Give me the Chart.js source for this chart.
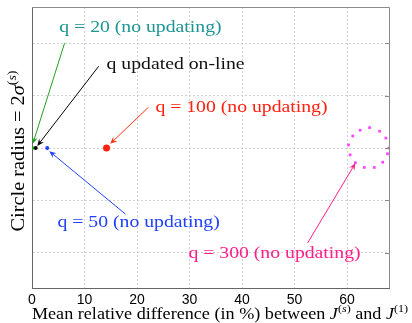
<!DOCTYPE html>
<html lang="en">
<head>
  <meta charset="UTF-8">
  <title>Circle radius vs mean relative difference</title>
  <style>
    html, body { margin: 0; padding: 0; background: #fff; }
    #wrap { width: 412px; height: 323px; }
  </style>
</head>
<body>
  <div id="wrap">
    <canvas id="myChart"></canvas>
  </div>

  <script src="https://cdn.jsdelivr.net/npm/chart.js"></script>

  <script>
    // values
    const xTickValues = [0, 10, 20, 30, 40, 50, 60];
    const yGridValues = [1, 2, 3, 4, 5];

    const runNames = ['q = 20', 'q updated on-line', 'q = 50', 'q = 100'];
    const meanDiff = [0.05, 0.7, 2.9, 14.2];
    const radius = [3, 3, 3, 3];

    // dots of the dotted circle for q = 300
    const circle300X = [60.6, 60.3, 61.1, 62.5, 64.3, 66.2, 67.4, 68.0, 67.7, 66.8, 65.2, 63.3, 61.6];
    const circle300Y = [2.87, 3.06, 3.23, 3.34, 3.39, 3.32, 3.19, 3.0, 2.89, 2.73, 2.63, 2.63, 2.72];

    const runColors = ['#22a022', '#000000', '#2040ff', '#ff2010'];
    const runSizes = [2, 2, 2, 3.5];

    // text labels with arrows (data units)
    const notes = [
      { text: 'q = 20 (no updating)', color: 'rgb(30,148,148)', arrow: '#22a022', at: [5.2, 5.30], from: [6.2, 5.0], to: [0.15, 3.08] },
      { text: 'q updated on-line', color: '#111', arrow: '#000', at: [14.2, 4.60], from: [12.7, 4.56], to: [1.0, 3.04] },
      { text: 'q = 100 (no updating)', color: '#ff2010', arrow: '#ff3010', at: [23.5, 3.78], from: [22.2, 3.78], to: [14.9, 3.08] },
      { text: 'q = 50 (no updating)', color: '#2040ff', arrow: '#2040ff', at: [4.85, 1.57], from: [17.8, 1.74], to: [3.3, 2.94] },
      { text: 'q = 300 (no updating)', color: 'rgb(255,30,140)', arrow: 'rgb(255,30,140)', at: [29.8, 0.98], from: [52.5, 1.19], to: [61.6, 2.71] }
    ];

    const serif = '"Liberation Serif", "Times New Roman", serif';

    const datasets = runNames.map((name, i) => ({
      label: name,
      data: [{ x: meanDiff[i], y: radius[i] }],
      backgroundColor: runColors[i],
      borderColor: runColors[i],
      pointRadius: runSizes[i],
      borderWidth: 0
    }));
    datasets.push({
      label: 'q = 300',
      data: circle300X.map((x, i) => ({ x: x, y: circle300Y[i] })),
      backgroundColor: '#ff40ff',
      borderColor: '#ff40ff',
      pointStyle: 'rect',
      pointRadius: 1.9,
      borderWidth: 0
    });

    function arrow(ctx, x1, y1, x2, y2, color) {
      const a = Math.atan2(y2 - y1, x2 - x1);
      const L = 7, W = 3;
      ctx.save();
      ctx.strokeStyle = color;
      ctx.fillStyle = color;
      ctx.lineWidth = 1;
      ctx.beginPath();
      ctx.moveTo(x1, y1);
      ctx.lineTo(x2 - Math.cos(a) * 4, y2 - Math.sin(a) * 4);
      ctx.stroke();
      ctx.beginPath();
      ctx.moveTo(x2, y2);
      ctx.lineTo(x2 - L * Math.cos(a) + W * Math.sin(a), y2 - L * Math.sin(a) - W * Math.cos(a));
      ctx.lineTo(x2 - 4.5 * Math.cos(a), y2 - 4.5 * Math.sin(a));
      ctx.lineTo(x2 - L * Math.cos(a) - W * Math.sin(a), y2 - L * Math.sin(a) + W * Math.cos(a));
      ctx.closePath();
      ctx.fill();
      ctx.restore();
    }

    // text made of runs: {t, f, dy}
    function runsWidth(ctx, runs) {
      return runs.reduce((w, r) => { ctx.font = r.f; return w + ctx.measureText(r.t).width; }, 0);
    }
    function drawRuns(ctx, runs, x, y) {
      runs.forEach(r => {
        ctx.font = r.f;
        ctx.fillText(r.t, x, y + (r.dy || 0));
        x += ctx.measureText(r.t).width;
      });
    }

    const overlay = {
      id: 'overlay',
      afterDatasetsDraw(chart) {
        const { ctx, chartArea: a, scales: { x, y } } = chart;
        ctx.save();
        // frame
        ctx.strokeStyle = '#8a8a8a';
        ctx.lineWidth = 1;
        ctx.beginPath();
        ctx.moveTo(a.left, a.top + 0.5);
        ctx.lineTo(a.right + 0.5, a.top + 0.5);
        ctx.lineTo(a.right + 0.5, a.bottom);
        ctx.stroke();
        yGridValues.forEach(v => {
          const py = Math.round(y.getPixelForValue(v)) + 0.5;
          ctx.beginPath();
          ctx.moveTo(a.right - 4, py);
          ctx.lineTo(a.right, py);
          ctx.stroke();
        });
        // labels and arrows
        ctx.textBaseline = 'middle';
        ctx.textAlign = 'left';
        notes.forEach(n => {
          ctx.save();
          ctx.font = '17px ' + serif;
          ctx.fillStyle = n.color;
          ctx.translate(x.getPixelForValue(n.at[0]), y.getPixelForValue(n.at[1]));
          ctx.scale(1.16, 1);
          ctx.fillText(n.text, 0, 0);
          ctx.restore();
          arrow(ctx, x.getPixelForValue(n.from[0]), y.getPixelForValue(n.from[1]),
            x.getPixelForValue(n.to[0]), y.getPixelForValue(n.to[1]), n.arrow);
        });
        ctx.restore();
      },
      afterDraw(chart) {
        const { ctx } = chart;
        ctx.save();
        ctx.fillStyle = '#000';
        ctx.textBaseline = 'alphabetic';
        ctx.textAlign = 'left';
        const big = '16.5px ' + serif, it = 'italic 16.5px ' + serif;
        const sm = '11px ' + serif, smIt = 'italic 11px ' + serif;
        const xRuns = [
          { t: 'Mean relative difference (in %) between ', f: big },
          { t: 'J', f: it },
          { t: '(', f: sm, dy: -7 }, { t: 's', f: smIt, dy: -7 }, { t: ')', f: sm, dy: -7 },
          { t: ' and ', f: big },
          { t: 'J', f: it },
          { t: '(1)', f: sm, dy: -7 }
        ];
        const xw = runsWidth(ctx, xRuns) * 1.1;
        ctx.save();
        ctx.translate(220 - xw / 2, 319);
        ctx.scale(1.1, 1);
        drawRuns(ctx, xRuns, 0, 0);
        ctx.restore();

        const yb = '19px ' + serif, yi = 'italic 19px ' + serif;
        const ys = '13px ' + serif, ysi = 'italic 13px ' + serif;
        const yRuns = [
          { t: 'Circle radius = 2', f: yb },
          { t: 'σ', f: yi },
          { t: '(', f: ys, dy: -8 }, { t: 's', f: ysi, dy: -8 }, { t: ')', f: ys, dy: -8 }
        ];
        const yw = runsWidth(ctx, yRuns) * 1.07;
        ctx.translate(24, 151);
        ctx.rotate(-Math.PI / 2);
        ctx.translate(-yw / 2, 0);
        ctx.scale(1.07, 1);
        drawRuns(ctx, yRuns, 0, 0);
        ctx.restore();
      }
    };

    const ctx = document.getElementById('myChart').getContext('2d');
    new Chart(ctx, {
      type: 'scatter',
      data: { datasets: datasets },
      plugins: [overlay],
      options: {
        responsive: true,
        maintainAspectRatio: false,
        animation: false,
        layout: { padding: { left: 32, right: 23, top: 7, bottom: 0 } },
        plugins: { legend: { display: false }, tooltip: { enabled: false } },
        scales: {
          x: {
            type: 'linear',
            min: 0,
            max: 68,
            afterFit: s => { s.height = 35; },
            afterBuildTicks: s => { s.ticks = xTickValues.map(v => ({ value: v })); },
            ticks: {
              color: '#000',
              padding: 4,
              font: { family: '"Liberation Sans", Arial, sans-serif', size: 14 }
            },
            grid: { color: '#d2d2d2', drawTicks: false },
            border: { color: '#666', width: 1, dash: [2, 2] }
          },
          y: {
            type: 'linear',
            min: 0.33,
            max: 5.69,
            afterFit: s => { s.width = 0; },
            afterBuildTicks: s => { s.ticks = yGridValues.map(v => ({ value: v })); },
            ticks: { display: false },
            grid: { color: '#d2d2d2', drawTicks: false },
            border: { color: '#666', width: 1, dash: [2, 2] }
          }
        }
      }
    });
  </script>
</body>
</html>
